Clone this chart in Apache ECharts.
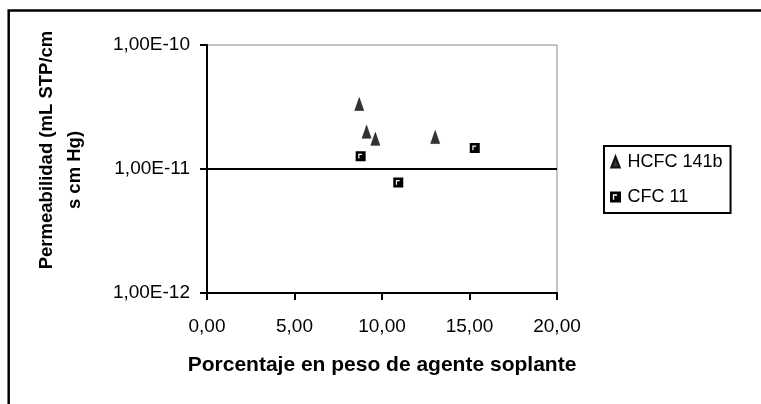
<!DOCTYPE html>
<html>
<head>
<meta charset="utf-8">
<script src="https://cdn.jsdelivr.net/npm/echarts@6/dist/echarts.min.js"></script>
<style>
html,body{margin:0;padding:0;background:#fff;}
#chart{width:761px;height:404px;}
</style>
</head>
<body>
<div id="chart"></div>
<script>
// ---- data ----
var seriesNames = ['HCFC 141b', 'CFC 11'];
var hcfcX = [8.70, 9.12, 9.62, 13.04];
var hcfcY = [3.34e-11, 2.0e-11, 1.75e-11, 1.81e-11];
var cfcX = [8.78, 10.93, 15.30];
var cfcY = [1.27e-11, 7.8e-12, 1.48e-11];
var xTickLabels = ['0,00', '5,00', '10,00', '15,00', '20,00'];
var yTickLabels = ['1,00E-12', '1,00E-11', '1,00E-10'];
var refLineX = [0, 20];
var refLineY = [1e-11, 1e-11];
var xTitle = 'Porcentaje en peso de agente soplante';
var yTitleLine1 = 'Permeabilidad (mL STP/cm';
var yTitleLine2 = 's cm Hg)';

function pairs(xs, ys) { return xs.map(function (x, i) { return [x, ys[i]]; }); }

var squareIcon = 'path://M0,0 L10,0 L10,10 L0,10 Z M2.6,2.6 L2.6,7.4 L3.8,7.4 L3.8,3.8 L6.4,3.8 L6.4,2.6 Z';
var triIcon = 'path://M5,0 L10,13 L0,13 Z';
var FONT = '"Liberation Sans", Arial, sans-serif';

var chart = echarts.init(document.getElementById('chart'), null, { renderer: 'canvas' });
chart.setOption({
  animation: false,
  backgroundColor: '#fff',
  grid: {
    left: 207, right: 204, top: 45, bottom: 111,
    show: true, borderColor: '#8a8a8a', borderWidth: 1, backgroundColor: 'transparent'
  },
  xAxis: {
    type: 'value', min: 0, max: 20, interval: 5,
    axisLine: { show: true, onZero: false, lineStyle: { color: '#000', width: 2 } },
    axisTick: { show: true, inside: false, length: 7, lineStyle: { color: '#000', width: 2 } },
    splitLine: { show: false },
    axisLabel: {
      margin: 24, fontSize: 19, color: '#000', fontFamily: FONT,
      formatter: function (v) { return xTickLabels[Math.round(v / 5)]; }
    },
    name: xTitle, nameLocation: 'middle', nameGap: 62,
    nameTextStyle: { fontSize: 21, fontWeight: 'bold', color: '#000', fontFamily: FONT }
  },
  yAxis: {
    type: 'log', logBase: 10, min: 1e-12, max: 1e-10,
    axisLine: { show: true, onZero: false, lineStyle: { color: '#000', width: 2 } },
    axisTick: { show: true, inside: false, length: 7, lineStyle: { color: '#000', width: 2 } },
    splitLine: { show: false },
    minorTick: { show: false },
    axisLabel: {
      margin: 17, fontSize: 19, color: '#000', fontFamily: FONT,
      formatter: function (v) {
        var e = Math.round(Math.log10(v));
        return yTickLabels[e + 12];
      }
    }
  },
  legend: {
    orient: 'vertical', left: 604, top: 146,
    padding: [6, 8, 6, 6],
    itemWidth: 14, itemHeight: 11, itemGap: 15,
    borderColor: '#000', borderWidth: 2,
    textStyle: { fontSize: 18, color: '#000', fontFamily: FONT, lineHeight: 20 },
    data: [
      { name: seriesNames[0], icon: triIcon },
      { name: seriesNames[1], icon: squareIcon }
    ]
  },
  graphic: [
    {
      type: 'rect', silent: true, z: 100,
      shape: { x: 8.7, y: 10.5, width: 820, height: 520 },
      style: { fill: 'none', stroke: '#000', lineWidth: 2.5 }
    },
    {
      type: 'text', x: 47, y: 150, rotation: Math.PI / 2, silent: true,
      style: { text: yTitleLine1, fontSize: 18.5, fontWeight: 'bold', fontFamily: FONT, fill: '#000', align: 'center', verticalAlign: 'middle' }
    },
    {
      type: 'text', x: 75, y: 170, rotation: Math.PI / 2, silent: true,
      style: { text: yTitleLine2, fontSize: 18.5, fontWeight: 'bold', fontFamily: FONT, fill: '#000', align: 'center', verticalAlign: 'middle' }
    }
  ],
  series: [
    {
      name: 'ref', type: 'line', silent: true, symbol: 'none',
      lineStyle: { color: '#000', width: 2 },
      emphasis: { disabled: true }, tooltip: { show: false },
      data: pairs(refLineX, refLineY), z: 1
    },
    {
      name: seriesNames[0], type: 'scatter',
      symbol: 'triangle', symbolSize: [9, 13],
      itemStyle: { color: '#333', borderColor: '#111', borderWidth: 0.5, opacity: 1 },
      data: pairs(hcfcX, hcfcY), z: 3
    },
    {
      name: seriesNames[1], type: 'scatter',
      symbol: squareIcon, symbolSize: 10,
      itemStyle: { color: '#000', opacity: 1 },
      data: pairs(cfcX, cfcY), z: 3
    }
  ]
});
</script>
</body>
</html>
